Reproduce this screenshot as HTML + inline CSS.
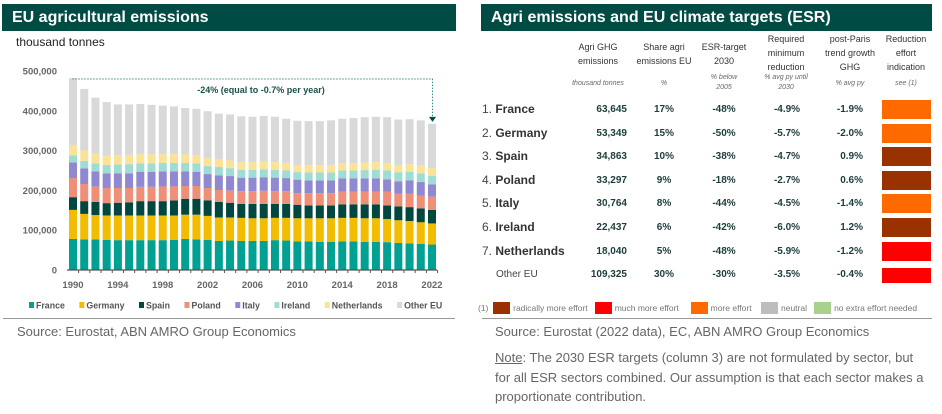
<!DOCTYPE html>
<html><head><meta charset="utf-8">
<style>
body{margin:0;width:942px;height:414px;background:#fff;font-family:"Liberation Sans",sans-serif;position:relative;overflow:hidden}
.hdr{position:absolute;top:4px;height:27px;background:#004c45;color:#fff;font-weight:bold;font-size:16px;line-height:27px;padding-left:10px;box-sizing:border-box}
.abs{position:absolute}
.th{position:absolute;font-size:9px;color:#333;text-align:center;line-height:14px;width:70px}
.ti{position:absolute;font-size:7px;color:#666;font-style:italic;text-align:center;line-height:10px;width:70px}
.row{position:absolute;left:0;width:942px;height:20px}
.lbl{position:absolute;left:482px;font-size:12px;color:#444}
.lbl b{color:#333}
.v{position:absolute;font-size:10px;font-weight:bold;color:#1d3d3a;text-align:center;width:60px}
.box{position:absolute;left:882px;width:49px}
.lg{position:absolute;top:302px;font-size:8.5px;color:#777;height:12px;line-height:12px;white-space:nowrap}
.lg span{display:inline-block;width:17px;height:12px;vertical-align:top;margin-right:3px}
</style></head><body>
<div class="hdr" style="left:2px;width:454px">EU agricultural emissions</div>
<div class="hdr" style="left:481px;width:451px">Agri emissions and EU climate targets (ESR)</div>
<div class="abs" style="left:16px;top:35px;font-size:12px;color:#222">thousand tonnes</div>

<svg id="chart" class="abs" style="left:0;top:0" width="470" height="320"></svg>

<div class="abs" style="left:3px;top:318px;width:452px;height:1px;background:#999"></div>
<div class="abs" style="left:482px;top:318px;width:450px;height:1px;background:#999"></div>
<div class="abs" style="left:17px;top:324px;font-size:13px;color:#666">Source: Eurostat, ABN AMRO Group Economics</div>
<div class="abs" style="left:495px;top:324px;font-size:13px;color:#666">Source: Eurostat (2022 data), EC, ABN AMRO Group Economics</div>
<div class="abs" style="left:495px;top:348px;width:445px;font-size:13px;color:#666;line-height:19.5px"><u>Note</u>: The 2030 ESR targets (column 3) are not formulated by sector, but<br>for all ESR sectors combined. Our assumption is that each sector makes a<br>proportionate contribution.</div>

<div class="th" style="left:563px;top:40px">Agri GHG<br>emissions</div>
<div class="th" style="left:629px;top:40px">Share agri<br>emissions EU</div>
<div class="th" style="left:689px;top:40px">ESR-target<br>2030</div>
<div class="th" style="left:751px;top:32px">Required<br>minimum<br>reduction</div>
<div class="th" style="left:815px;top:32px">post-Paris<br>trend growth<br>GHG</div>
<div class="th" style="left:871px;top:32px">Reduction<br>effort<br>indication</div>
<div class="ti" style="left:563px;top:79px">thousand tonnes</div>
<div class="ti" style="left:629px;top:79px">%</div>
<div class="ti" style="left:689px;top:73px">% below<br>2005</div>
<div class="ti" style="left:751px;top:73px">% avg py until<br>2030</div>
<div class="ti" style="left:815px;top:79px">% avg py</div>
<div class="ti" style="left:871px;top:79px">see (1)</div>
<div id="rows"></div>

<div class="lg" style="left:478px">(1)&nbsp;
<span style="background:#9a3200"></span>radically more effort&nbsp;&nbsp;
<span style="background:#ff0000"></span>much more effort&nbsp;&nbsp;&nbsp;&nbsp;
<span style="background:#ff6a00"></span>more effort&nbsp;&nbsp;&nbsp;
<span style="background:#bdbdbd"></span>neutral&nbsp;&nbsp;
<span style="background:#a9d18e"></span>no extra effort needed</div>

<script>
const years=[];for(let y=1990;y<=2022;y++)years.push(y);
const france=[78,77,77,76,75,75,75,75,75,76,78,77,76,73,74,73,73,73,75,74,72,72,71,71,72,72,71,71,70,68,67,66,64];
const germany=[73,64,61,61,62,62,62,62,62,61,61,62,60,59,58,58,57,57,56,57,58,58,59,59,59,59,59,59,58,57,56,54,53];
const spain=[32,32,33,31,32,33,36,36,36,38,40,40,39,39,37,35,36,36,35,35,34,32,32,32,34,34,35,35,34,35,35,35,34];
const poland=[48,43,39,38,37,36,36,36,37,35,32,32,31,30,31,32,32,33,32,32,29,31,31,31,32,32,32,32,35,32,34,32,33];
const italy=[39,39,38,37,37,37,38,38,38,38,37,36,35,37,36,34,34,34,34,33,34,32,32,32,33,33,33,33,31,31,33,34,31];
const ireland=[18,19,20,21,22,23,21,21,21,21,21,21,20,21,20,20,20,20,20,19,19,20,20,20,20,20,21,22,22,22,22,22,22];
const netherlands=[25,26,24,23,23,23,23,23,22,22,21,21,20,19,19,19,19,19,19,19,18,18,18,19,18,18,19,19,19,19,19,19,19];
const otherEU=[169,155,141,135,128,127,126,124,122,120,117,116,118,115,116,115,114,115,114,111,111,111,111,112,112,114,114,114,115,114,113,114,111];
const seriesNames=["France","Germany","Spain","Poland","Italy","Ireland","Netherlands","Other EU"];
const seriesColors=["#00a092","#f2bd00","#00473f","#ef8f78","#9088d0","#9fdcd4","#fbe396","#d9d9d9"];
const yTicks=[0,100000,200000,300000,400000,500000];
const xTickYears=[1990,1994,1998,2002,2006,2010,2014,2018,2022];
const annotation="-24% (equal to -0.7% per year)";

const NS="http://www.w3.org/2000/svg";
const svg=document.getElementById('chart');
const series=[france,germany,spain,poland,italy,ireland,netherlands,otherEU];
const y0=270,yTop=71,x0=73,x1=432;
const ys=v=>y0-(v/500)*(y0-yTop);
const xs=yr=>x0+(yr-1990)*(x1-x0)/32;
function mk(t,a){const e=document.createElementNS(NS,t);for(const k in a)e.setAttribute(k,a[k]);svg.appendChild(e);return e;}
yTicks.forEach(t=>{
  const e=mk('text',{x:57,y:ys(t/1000)+3.5,'text-anchor':'end','font-size':'9.5','font-weight':'bold',fill:'#666'});
  
  
  e.textContent=t.toLocaleString('en-US');
});
years.forEach((yr,i)=>{
  let cum=0;
  series.forEach((s,k)=>{
    const r=mk('rect',{x:xs(yr)-4,y:ys(cum+s[i]),width:8,height:ys(cum)-ys(cum+s[i]),fill:seriesColors[k]});
    
    
    cum+=s[i];
  });
});
const ax=mk('line',{x1:67,x2:437,y1:y0,y2:y0,stroke:'#555','stroke-width':1.2});


years.forEach(yr=>{const tk=mk('line',{x1:xs(yr)+5.6,x2:xs(yr)+5.6,y1:y0,y2:y0+3,stroke:'#555'});
  
  });
xTickYears.forEach(yr=>{
  const e=mk('text',{x:xs(yr),y:288,'text-anchor':'middle','font-size':'9.5','font-weight':'bold',fill:'#666'});
  
  
  e.textContent=yr;
});
const tot0=series.reduce((a,s)=>a+s[0],0),totN=series.reduce((a,s)=>a+s[32],0);
const p=mk('path',{d:`M${xs(1990)} ${ys(tot0)} V79 H${xs(2022)+0.5} V${ys(totN)-6}`,fill:'none',stroke:'#3a8f86','stroke-width':1,'stroke-dasharray':'1.5,1.5'});


const ar=mk('path',{d:`M${xs(2022)-3} ${ys(totN)-7} h7 l-3.5 5z`,fill:'#004c45'});


const at=mk('text',{x:261,y:93,'text-anchor':'middle','font-size':'9','font-weight':'bold',fill:'#1d4f49'});


at.textContent=annotation;
let lx=29;
seriesNames.forEach((n,k)=>{
  const g=mk('g',{});
  
  
  const r=document.createElementNS(NS,'rect');r.setAttribute('x',lx);r.setAttribute('y',302);r.setAttribute('width',5);r.setAttribute('height',6);r.setAttribute('fill',seriesColors[k]);g.appendChild(r);
  const t=document.createElementNS(NS,'text');t.setAttribute('x',lx+7);t.setAttribute('y',308.5);t.setAttribute('font-size','8.8');t.setAttribute('font-weight','bold');t.setAttribute('fill','#555');t.textContent=n;g.appendChild(t);
  lx+=7+t.getComputedTextLength()+14.5;
});

const tNames=["1. France","2. Germany","3. Spain","4. Poland","5. Italy","6. Ireland","7. Netherlands","Other EU"];
const tAgri=["63,645","53,349","34,863","33,297","30,764","22,437","18,040","109,325"];
const tShare=["17%","15%","10%","9%","8%","6%","5%","30%"];
const tEsr=["-48%","-50%","-38%","-18%","-44%","-42%","-48%","-30%"];
const tReq=["-4.9%","-5.7%","-4.7%","-2.7%","-4.5%","-6.0%","-5.9%","-3.5%"];
const tTrend=["-1.9%","-2.0%","0.9%","0.6%","-1.4%","1.2%","-1.2%","-0.4%"];
const tEffort=["#ff6a00","#ff6a00","#9a3200","#9a3200","#ff6a00","#9a3200","#ff0000","#ff0000"];
const rows=document.getElementById('rows');
tNames.forEach((n,i)=>{
  const cy=110+i*23.6;
  const d=document.createElement('div');d.className='row';d.style.top=(cy-8)+'px';
  
  
  let lab;
  if(i<7){const m=n.split('. ');lab=`<div class="lbl">${m[0]}. <b>${m[1]}</b></div>`;}
  else lab=`<div class="lbl" style="left:496px;font-size:10px;top:2px">${n}</div>`;
  const boxTop=i<7?-2:1, boxH=i<7?19:15;
  d.innerHTML=lab+
   `<div class="v" style="left:567px;width:60px;text-align:right;top:2px">${tAgri[i]}</div>`+
   `<div class="v" style="left:634px;top:2px">${tShare[i]}</div>`+
   `<div class="v" style="left:694px;top:2px">${tEsr[i]}</div>`+
   `<div class="v" style="left:757px;top:2px">${tReq[i]}</div>`+
   `<div class="v" style="left:803px;width:60px;text-align:right;top:2px">${tTrend[i]}</div>`+
   `<div class="box" style="top:${boxTop}px;height:${boxH}px;background:${tEffort[i]}"></div>`;
  rows.appendChild(d);
});
</script>
</body></html>
